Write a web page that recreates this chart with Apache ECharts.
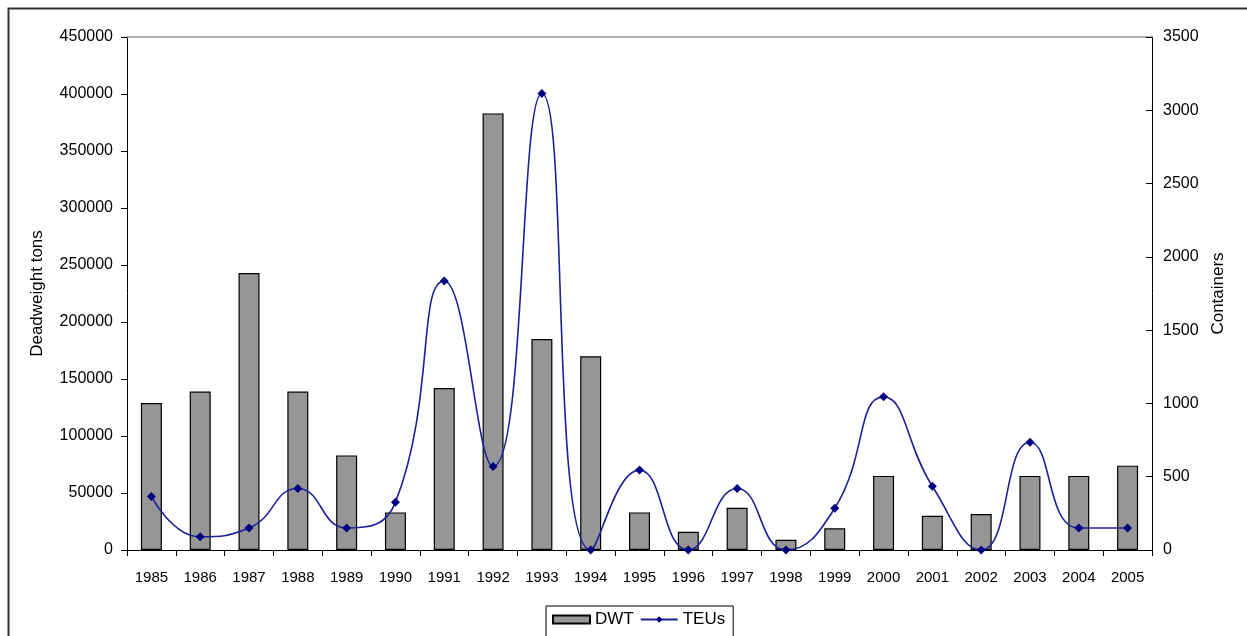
<!DOCTYPE html>
<html style="height: 100%">
<head>
  <meta charset="UTF-8">
  <title>DWT and TEUs</title>
  <script src="https://cdn.jsdelivr.net/npm/echarts@6/dist/echarts.min.js"></script>
</head>
<body style="height: 100%; margin: 0; background: #fff">
<div id="main" style="width: 1247px; height: 636px"></div>

<script>
  // years on the category axis
  const years = ['1985', '1986', '1987', '1988', '1989', '1990', '1991', '1992', '1993', '1994', '1995',
    '1996', '1997', '1998', '1999', '2000', '2001', '2002', '2003', '2004', '2005'];

  // deadweight tons (left axis)
  const dwt = [129000, 139000, 243000, 139000, 83000, 33000, 142000, 383000, 185000, 170000, 33000,
    16000, 37000, 9000, 19000, 65000, 30000, 31500, 65000, 65000, 74000];

  // containers (right axis)
  const teus = [365, 90, 150, 420, 150, 325, 1835, 570, 3115, 0, 545,
    0, 420, 0, 285, 1045, 435, 0, 735, 150, 150];

  const font = 'Arial, "Liberation Sans", sans-serif';
  const nameText = { color: '#000', fontSize: 17, fontFamily: font };

  let option = {
    animation: false,
    backgroundColor: '#fff',
    textStyle: { fontFamily: font },
    graphic: [{
      type: 'rect',
      shape: { x: 8.5, y: 8.5, width: 1300, height: 700 },
      style: { fill: 'none', stroke: '#333', lineWidth: 2 },
      silent: true
    }],
    grid: { left: 127, right: 95, top: 37, bottom: 86 },
    legend: {
      bottom: -4,
      left: 546,
      padding: [5, 8, 12, 6],
      borderColor: '#000',
      borderWidth: 1,
      itemGap: 6,
      itemWidth: 37,
      itemHeight: 8,
      textStyle: { color: '#000', fontSize: 17, fontFamily: font },
      data: [
        { name: 'DWT', icon: 'rect' },
        { name: 'TEUs' }
      ]
    },
    xAxis: [{
      type: 'category',
      data: years,
      boundaryGap: true,
      axisLine: { lineStyle: { color: '#000', width: 1 } },
      axisTick: { show: true, alignWithLabel: false, length: 6, lineStyle: { color: '#000' } },
      axisLabel: { color: '#000', fontSize: 15, fontFamily: font, margin: 20, interval: 0 },
      splitLine: { show: false }
    }, {
      // top edge of the plot area
      type: 'category',
      data: years,
      position: 'top',
      axisLine: { show: true, onZero: false, lineStyle: { color: '#999', width: 1.5 } },
      axisTick: { show: false },
      axisLabel: { show: false }
    }],
    yAxis: [{
      type: 'value',
      min: 0,
      max: 450000,
      interval: 50000,
      name: 'Deadweight tons',
      nameLocation: 'middle',
      nameRotate: 90,
      nameGap: 81,
      nameTextStyle: nameText,
      axisLine: { show: true, lineStyle: { color: '#000', width: 1 } },
      axisTick: { show: true, length: 6, lineStyle: { color: '#000' } },
      axisLabel: { color: '#000', fontSize: 16, fontFamily: font, margin: 14, formatter: v => String(v) },
      splitLine: { show: false }
    }, {
      type: 'value',
      min: 0,
      max: 3500,
      interval: 500,
      position: 'right',
      name: 'Containers',
      nameLocation: 'middle',
      nameRotate: 90,
      nameGap: 57,
      nameTextStyle: nameText,
      axisLine: { show: true, lineStyle: { color: '#000', width: 1 } },
      axisTick: { show: true, inside: true, length: 6, lineStyle: { color: '#000' } },
      axisLabel: { color: '#000', fontSize: 16, fontFamily: font, margin: 11, formatter: v => String(v) },
      splitLine: { show: false }
    }],
    series: [{
      name: 'DWT',
      type: 'bar',
      yAxisIndex: 0,
      barWidth: 21,
      data: dwt,
      itemStyle: { color: '#969696', borderColor: '#000', borderWidth: 1.2 }
    }, {
      name: 'TEUs',
      type: 'line',
      yAxisIndex: 1,
      smooth: 0.5,
      symbol: 'diamond',
      symbolSize: 9,
      data: teus,
      z: 5,
      lineStyle: { color: '#1f1f9a', width: 1.6 },
      itemStyle: { color: '#000080' }
    }]
  };

  let chart = echarts.init(document.getElementById('main'));
  chart.setOption(option);
</script>
</body>
</html>
